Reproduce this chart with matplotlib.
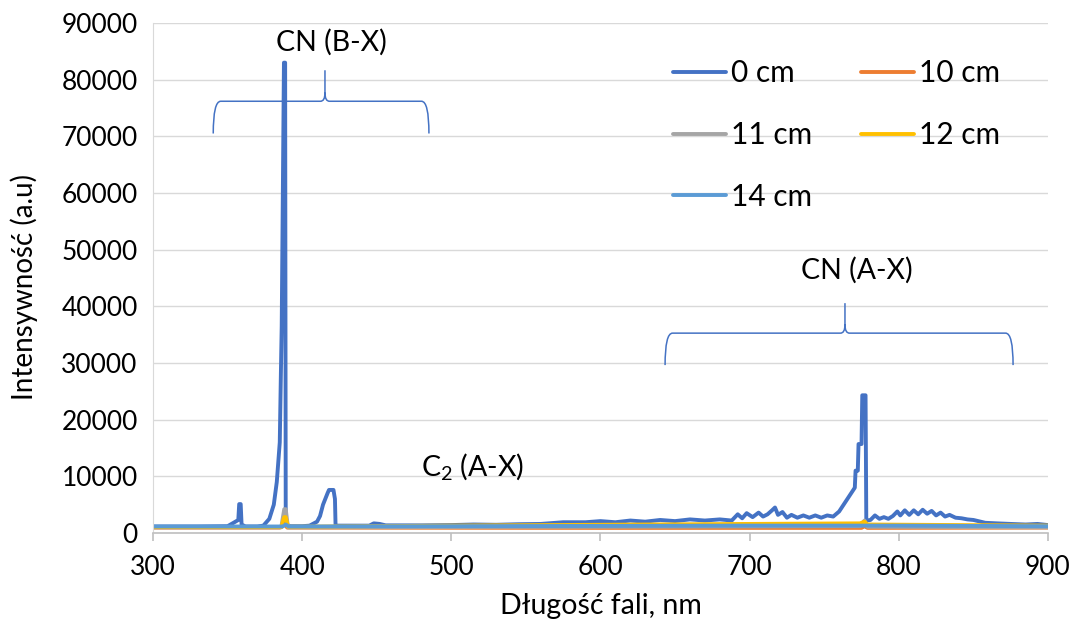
import matplotlib
matplotlib.use("Agg")
import matplotlib.pyplot as plt
from matplotlib.path import Path
from matplotlib.patches import PathPatch

plt.rcParams['font.family'] = ['Lato', 'DejaVu Sans']
plt.rcParams['mathtext.fontset'] = 'custom'
plt.rcParams['mathtext.rm'] = 'Lato'
plt.rcParams['mathtext.it'] = 'Lato'

# Widmo dla 0 cm
wl_0 = [300, 330, 350, 354, 357.2, 357.8, 358.8, 359.4, 362, 370, 374, 378, 381, 383,
        385, 385.8, 386.3, 386.8, 387.8, 388.6, 389.0, 392, 400, 405, 410, 412, 414,
        417, 418, 421, 422, 422.4, 430, 445, 448, 452, 456, 480, 500, 515, 530, 545,
        560, 575, 590, 600, 610, 620, 630, 640, 650, 660, 670, 680, 688, 692, 695, 698,
        702, 706, 709, 712, 715, 717, 719, 722, 725, 728, 732, 736, 740, 744, 748, 752,
        756, 760, 762, 765, 768, 770.5, 771, 772.5, 773, 775, 775.5, 777.7, 778.2, 781,
        784, 787, 790, 793, 796, 799, 801, 804, 807, 810, 813, 816, 819, 822, 825, 828,
        831, 834, 838, 842, 846, 850, 858, 866, 875, 885, 893, 900]
int_0 = [1150, 1150, 1200, 1800, 2300, 5100, 5100, 1500, 1150, 1150, 1300, 2500, 5000, 9000,
         16000, 29000, 36500, 52000, 83000, 83000, 1500, 1200, 1200, 1300, 2000, 3000, 5000,
         7000, 7600, 7600, 6000, 1300, 1300, 1300, 1700, 1600, 1350, 1350, 1400, 1500, 1450, 1550,
         1600, 1900, 1900, 2100, 1900, 2200, 2000, 2300, 2100, 2400, 2200, 2400, 2200, 3300, 2600, 3500,
         2800, 3600, 2900, 3300, 4000, 4500, 3200, 3700, 2700, 3200, 2700, 3100, 2700, 3100, 2700, 3100,
         2900, 3800, 4600, 5800, 7000, 8000, 11000, 11000, 15700, 15700, 24300, 24300, 2200, 2300,
         3100, 2500, 2800, 2500, 3000, 3800, 3100, 4000, 3200, 4000, 3300, 4100, 3400, 3900, 3100, 3600,
         2900, 3200, 2700, 2600, 2400, 2300, 1800, 1700, 1600, 1500, 1600, 1400]

# Pozostale odleglosci
wl_10 = [300, 385, 388.5, 390, 600, 775, 777, 779, 900]
int_10 = [950, 950, 1500, 950, 900, 900, 1200, 900, 950]

wl_11 = [300, 386, 388, 389, 390.5, 600, 774, 777, 779, 900]
int_11 = [1000, 1000, 4200, 4200, 1000, 1100, 1200, 2200, 1100, 1000]

wl_12 = [300, 386, 388, 389, 390.5, 500, 700, 774, 777, 779, 900]
int_12 = [1050, 1050, 2800, 2800, 1100, 1300, 1600, 1700, 2000, 1500, 1300]

wl_14 = [300, 387, 389, 391, 500, 700, 800, 900]
int_14 = [1150, 1150, 1500, 1150, 1200, 1300, 1300, 1200]

serie = [("0 cm", wl_0, int_0, "#4472C4"),
         ("10 cm", wl_10, int_10, "#ED7D31"),
         ("11 cm", wl_11, int_11, "#A5A5A5"),
         ("12 cm", wl_12, int_12, "#FFC000"),
         ("14 cm", wl_14, int_14, "#5B9BD5")]

fig = plt.figure(figsize=(10.72, 6.25), dpi=100)
ax = fig.add_axes([0.1427, 0.1472, 0.8349, 0.8160])

linie = []
for nazwa, x, y, kolor in serie:
    l, = ax.plot(x, y, color=kolor, linewidth=2.8, label=nazwa,
                 solid_joinstyle="round", solid_capstyle="round")
    linie.append(l)

ax.set_xlim(300, 900)
ax.set_ylim(0, 90000)
ax.set_xticks(range(300, 901, 100))
ax.set_yticks(range(0, 90001, 10000))
ax.yaxis.grid(True, color="#D9D9D9", linewidth=1)
ax.set_axisbelow(True)
for s in ["top", "right"]:
    ax.spines[s].set_visible(False)
ax.spines["left"].set_color("#D9D9D9")
ax.spines["bottom"].set_color("#BFBFBF")
ax.spines["bottom"].set_linewidth(1.2)
ax.tick_params(axis="y", length=0, pad=11, labelsize=19)
ax.tick_params(axis="x", length=6, color="#BFBFBF", width=1.2, pad=10, labelsize=19)

ax.set_ylabel("Intensywność (a.u)", fontsize=20)
ax.set_xlabel("Długość fali, nm", fontsize=20.5)
ax.yaxis.set_label_coords(-0.128, 0.482)
ax.xaxis.set_label_coords(0.5, -0.118)


# Klamra nad pasmem
def klamra(x0, x1, xm, y_dol, y_lin, y_szczyt, rx, ry, rxm):
    verts = [(x0, y_dol), (x0, y_lin), (x0 + rx, y_lin),
             (xm - rxm, y_lin), (xm, y_lin), (xm, y_lin + ry),
             (xm, y_szczyt), (xm, y_lin + ry), (xm, y_lin),
             (xm + rxm, y_lin), (x1 - rx, y_lin), (x1, y_lin), (x1, y_dol)]
    codes = [Path.MOVETO, Path.CURVE3, Path.CURVE3,
             Path.LINETO, Path.CURVE3, Path.CURVE3,
             Path.LINETO, Path.MOVETO, Path.CURVE3,
             Path.CURVE3, Path.LINETO, Path.CURVE3, Path.CURVE3]
    ax.add_patch(PathPatch(Path(verts, codes), fill=False, edgecolor="#4472C4",
                           linewidth=1.1, clip_on=False))


klamra(340.4, 485.0, 415.3, 70500, 76190, 81660, 5, 1500, 3)
klamra(643.3, 876.6, 763.9, 29630, 35270, 40560, 5, 1500, 3)

ax.text(419.4, 86600, "CN (B-X)", fontsize=20.5, ha="center", va="center")
ax.text(772, 46400, "CN (A-X)", fontsize=20.5, ha="center", va="center")
ax.text(514, 11700, "C$_2$ (A-X)", fontsize=20.5, ha="center", va="center")

# kolejnosc wierszami: 0/10, 11/12, 14
kolejnosc = [0, 2, 4, 1, 3]
ax.legend([linie[i] for i in kolejnosc], [serie[i][0] for i in kolejnosc],
          ncol=2, frameon=False, fontsize=21.5, loc="upper left",
          bbox_to_anchor=(0.628, 0.905), bbox_transform=fig.transFigure,
          handlelength=1.77, handletextpad=0.17, columnspacing=1.64,
          labelspacing=1.13, borderpad=0, borderaxespad=0)

fig.savefig("out.png", dpi=100)
